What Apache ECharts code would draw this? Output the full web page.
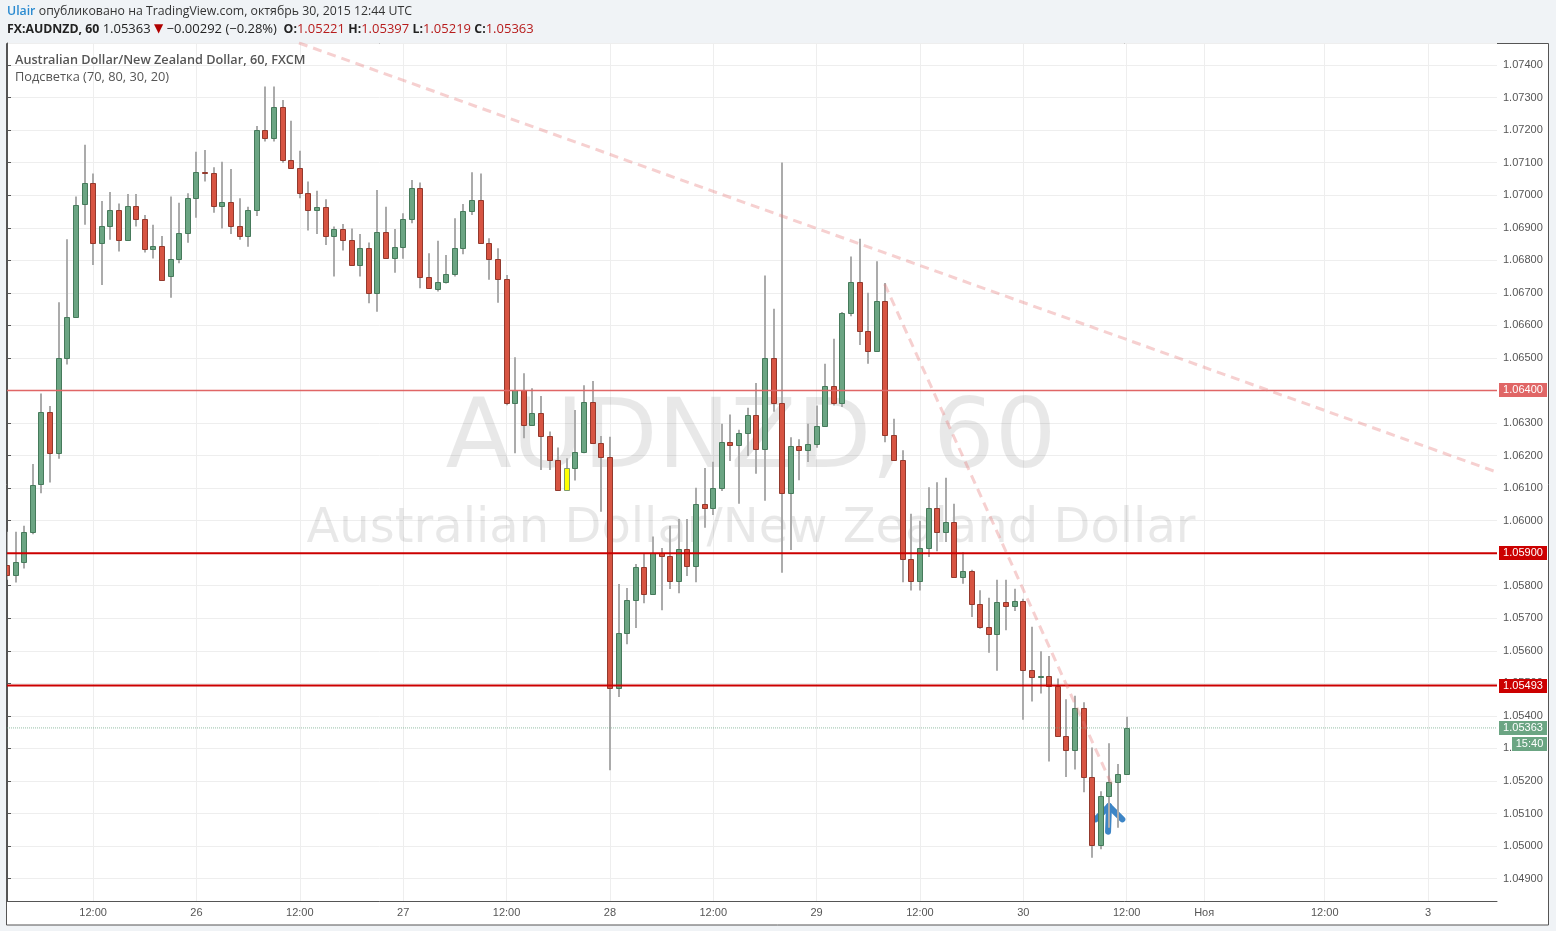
<!DOCTYPE html>
<html>
<head>
<meta charset="utf-8">
<script src="https://cdn.jsdelivr.net/npm/echarts@6/dist/echarts.min.js"></script>
<style>
html,body{margin:0;padding:0;background:#f0f3f6;}
#chart{width:1556px;height:931px;}
</style>
</head>
<body>
<div id="chart"></div>
<script>
// ---------- DATA ----------
const opens = [
1.05864,1.05833,1.05874,1.05966,1.06112,1.06333,1.06207,1.06499,1.06627,1.06972,
1.07039,1.06854,1.06906,1.06955,1.06863,1.06967,1.06927,1.06836,1.06844,1.06753,
1.06804,1.06885,1.06993,1.07070,1.07069,1.06967,1.06979,1.06904,1.06875,1.06955,
1.07201,1.07177,1.07272,1.07108,1.07085,1.07008,1.06955,1.06965,1.06875,1.06896,
1.06863,1.06786,1.06839,1.06699,1.06888,1.06806,1.06842,1.06927,1.07023,1.06750,
1.06712,1.06733,1.06758,1.06839,1.06953,1.06986,1.06854,1.06805,1.06744,1.06363,
1.06402,1.06294,1.06332,1.06260,1.06186,1.06094,1.06162,1.06210,1.06366,1.06239,
1.06197,1.05487,1.05655,1.05756,1.05857,1.05774,1.05900,1.05891,1.05815,1.05912,
1.05861,1.06052,1.06039,1.06101,1.06241,1.06234,1.06268,1.06326,1.06221,1.06501,
1.06363,1.06085,1.06228,1.06218,1.06236,1.06292,1.06415,1.06361,1.06638,1.06733,
1.06582,1.06521,1.06675,1.06262,1.06185,1.05883,1.05814,1.05915,1.06038,1.05965,
1.05997,1.05826,1.05844,1.05743,1.05674,1.05651,1.05749,1.05737,1.05753,1.05541,
1.05520,1.05522,1.05493,1.05339,1.05294,1.05425,1.05211,1.05002,1.05153,1.05196,
1.05221];
const closes = [
1.05833,1.05872,1.05966,1.06110,1.06333,1.06207,1.06499,1.06625,1.06970,1.07039,
1.06852,1.06906,1.06955,1.06863,1.06967,1.06927,1.06836,1.06845,1.06740,1.06804,
1.06885,1.06993,1.07070,1.07067,1.06967,1.06979,1.06904,1.06875,1.06955,1.07201,
1.07177,1.07272,1.07108,1.07085,1.07006,1.06955,1.06965,1.06875,1.06896,1.06863,
1.06786,1.06839,1.06699,1.06888,1.06806,1.06842,1.06927,1.07023,1.06750,1.06714,
1.06733,1.06758,1.06839,1.06953,1.06986,1.06854,1.06805,1.06744,1.06363,1.06402,
1.06294,1.06332,1.06260,1.06186,1.06094,1.06162,1.06210,1.06366,1.06239,1.06197,
1.05487,1.05655,1.05756,1.05857,1.05774,1.05900,1.05891,1.05815,1.05912,1.05861,
1.06052,1.06039,1.06101,1.06241,1.06234,1.06268,1.06326,1.06221,1.06501,1.06363,
1.06085,1.06228,1.06218,1.06236,1.06292,1.06415,1.06361,1.06638,1.06733,1.06582,
1.06521,1.06675,1.06262,1.06185,1.05883,1.05814,1.05915,1.06038,1.05965,1.05997,
1.05826,1.05844,1.05743,1.05674,1.05651,1.05750,1.05737,1.05753,1.05541,1.05520,
1.05522,1.05493,1.05339,1.05294,1.05425,1.05211,1.05002,1.05153,1.05196,1.05221,
1.05363];
const lows = [
1.05818,1.05810,1.05853,1.05958,1.06084,1.06117,1.06190,1.06480,1.06627,1.06909,
1.06786,1.06724,1.06863,1.06827,1.06863,1.06904,1.06824,1.06806,1.06738,1.06685,
1.06791,1.06854,1.06931,1.07042,1.06946,1.06898,1.06881,1.06863,1.06842,1.06936,
1.07165,1.07165,1.07100,1.07083,1.06991,1.06892,1.06881,1.06847,1.06750,1.06830,
1.06786,1.06750,1.06668,1.06642,1.06806,1.06762,1.06805,1.06914,1.06714,1.06714,
1.06704,1.06729,1.06750,1.06819,1.06939,1.06854,1.06740,1.06670,1.06355,1.06207,
1.06253,1.06294,1.06156,1.06156,1.06094,1.06094,1.06123,1.06207,1.06239,1.06027,
1.05233,1.05458,1.05620,1.05670,1.05746,1.05774,1.05725,1.05790,1.05777,1.05830,
1.05811,1.05978,1.06017,1.06091,1.06183,1.06052,1.06199,1.06144,1.06061,1.06335,
1.05840,1.05910,1.06124,1.06180,1.06224,1.06292,1.06354,1.06349,1.06628,1.06540,
1.06482,1.06521,1.06241,1.06185,1.05811,1.05785,1.05785,1.05888,1.05906,1.05934,
1.05826,1.05806,1.05704,1.05668,1.05594,1.05539,1.05663,1.05722,1.05388,1.05444,
1.05469,1.05260,1.05339,1.05212,1.05235,1.05165,1.04964,1.04990,1.05056,1.05056,
1.05219];
const highs = [
1.05966,1.05966,1.05984,1.06174,1.06391,1.06352,1.06671,1.06865,1.06996,1.07155,
1.07067,1.06982,1.07010,1.06975,1.07004,1.07004,1.06939,1.06909,1.06875,1.06996,
1.06977,1.07006,1.07134,1.07139,1.07086,1.07103,1.07081,1.06991,1.06965,1.07213,
1.07334,1.07334,1.07293,1.07229,1.07137,1.07042,1.07014,1.06988,1.06904,1.06912,
1.06898,1.06881,1.06855,1.07016,1.06965,1.06896,1.06945,1.07047,1.07039,1.06822,
1.06860,1.06816,1.06929,1.06973,1.07071,1.07067,1.06868,1.06837,1.06755,1.06502,
1.06453,1.06407,1.06383,1.06274,1.06225,1.06192,1.06340,1.06416,1.06429,1.06260,
1.06258,1.05805,1.05793,1.05867,1.05898,1.05951,1.05916,1.05984,1.06005,1.06005,
1.06101,1.06162,1.06181,1.06298,1.06326,1.06279,1.06347,1.06423,1.06753,1.06651,
1.07101,1.06256,1.06250,1.06298,1.06354,1.06482,1.06559,1.06641,1.06812,1.06866,
1.06700,1.06797,1.06730,1.06313,1.06216,1.06021,1.06000,1.06103,1.06118,1.06132,
1.06052,1.05903,1.05849,1.05786,1.05763,1.05818,1.05818,1.05791,1.05760,1.05674,
1.05599,1.05584,1.05515,1.05451,1.05462,1.05442,1.05303,1.05168,1.05316,1.05252,
1.05397];
const highlightBars = [65];               // bars coloured by "Подсветка"
const levelPrices = [1.06400, 1.05900, 1.05493];
const lastPrice = 1.05363;
const countdownText = '15:40';
const changeText = '\u22120.00292 (\u22120.28%)';
const xTickIndex = [10, 22, 34, 46, 58, 70, 82, 94, 106, 118, 130, 139, 153, 165];
const xTickText  = ['12:00','26','12:00','27','12:00','28','12:00','29','12:00','30','12:00','Ноя','12:00','3'];
const slotCount = 174;                    // hourly slots on the time axis (incl. future space)
const trendLineA = [[33.9, 1.07468], [173.2, 1.06147]];
const trendLineB = [[101.9, 1.06727], [128.45, 1.05178]];
const arrowStem  = [[127.84, 1.05044], [127.95, 1.05123]];
const arrowHead  = [[126.4, 1.05082], [127.95, 1.05123], [129.5, 1.05082]];
const yMin = 1.048311, yMax = 1.074679;

// ---------- BUILD ----------
const categories = [];
for (let i = 0; i < slotCount; i++) {
  const t = 2 + i;
  categories.push((25 + Math.floor(t / 24)) + ' ' + String(t % 24).padStart(2, '0') + ':00');
}
const tickMap = {};
xTickIndex.forEach((k, j) => { tickMap[k] = xTickText[j]; });
const candleData = opens.map((o, i) => [i, o, closes[i], lows[i], highs[i]]);

const UP = '#6ba583', DOWN = '#d75442';
const chart = echarts.init(document.getElementById('chart'), null, {renderer: 'canvas'});

function levelSeries(p, color, width, type) {
  return {type: 'line', xAxisIndex: 1, yAxisIndex: 0, data: [[0, p], [slotCount - 1, p]],
    symbol: 'none', silent: true, z: 5, animation: false,
    lineStyle: {color: color, width: width, type: type || 'solid'}};
}

const option = {
  animation: false,
  backgroundColor: '#f0f3f6',
  grid: {left: 7, right: 59, top: 43, bottom: 30, show: false},
  xAxis: [{
    type: 'category', data: categories, boundaryGap: false,
    axisLine: {show: true, lineStyle: {color: '#555', width: 1}},
    axisTick: {show: false},
    axisLabel: {interval: (idx) => tickMap[idx] !== undefined, formatter: (v, idx) => tickMap[idx] || '',
      color: '#555', fontSize: 11, margin: 6, fontFamily: 'Liberation Sans, Arial, sans-serif'},
    splitLine: {show: true, interval: (idx) => tickMap[idx] !== undefined, lineStyle: {color: '#eeeeee', width: 1}}
  }, {
    type: 'value', min: 0, max: slotCount - 1, show: false
  }],
  yAxis: {
    type: 'value', position: 'right', min: yMin, max: yMax, splitNumber: 26,
    minInterval: 0.001, maxInterval: 0.001,
    axisLine: {show: true, lineStyle: {color: '#555', width: 1}},
    axisTick: {show: true, length: 4, lineStyle: {color: '#555'}},
    axisLabel: {showMinLabel: false, showMaxLabel: false, formatter: v => v.toFixed(5),
      color: '#555', fontSize: 11, margin: 6, fontFamily: 'Liberation Sans, Arial, sans-serif'},
    splitLine: {show: true, lineStyle: {color: '#eeeeee', width: 1}}
  },
  series: [
    // blue arrow (under candles)
    {type: 'line', xAxisIndex: 1, data: arrowHead, symbol: 'none', silent: true, z: 2,
      lineStyle: {color: '#3d85c6', width: 6, cap: 'round', join: 'round'}},
    {type: 'line', xAxisIndex: 1, data: arrowStem, symbol: 'none', silent: true, z: 2,
      lineStyle: {color: '#3d85c6', width: 6, cap: 'round', join: 'round'}},
    // candles
    {
      type: 'custom', xAxisIndex: 0, yAxisIndex: 0, data: candleData, clip: true, z: 3,
      dimensions: ['i', 'open', 'close', 'low', 'high'],
      encode: {x: 0, y: [1, 2, 3, 4]},
      renderItem: function (params, api) {
        const i = api.value(0);
        const o = api.value(1), c = api.value(2), l = api.value(3), h = api.value(4);
        const po = api.coord([i, o]), pc = api.coord([i, c]);
        const pl = api.coord([i, l]), ph = api.coord([i, h]);
        const cx = Math.round(po[0]);
        const up = c >= o;
        let fill = up ? UP : DOWN;
        let stroke = up ? '#467a5b' : '#93392d';
        if (highlightBars.indexOf(i) >= 0) { fill = '#ffff00'; stroke = '#7f9a6a'; }
        const yTop = Math.round(Math.min(po[1], pc[1]));
        const yBot = Math.round(Math.max(po[1], pc[1]));
        const bh = Math.max(1, yBot - yTop);
        return {type: 'group', children: [
          {type: 'line', shape: {x1: cx, y1: ph[1], x2: cx, y2: pl[1]}, style: {stroke: '#ababab', lineWidth: 2}},
          {type: 'rect', shape: {x: cx - 2.5, y: yTop + 0.5, width: 5, height: bh},
            style: {fill: fill, stroke: stroke, lineWidth: 1}}
        ]};
      }
    },
    levelSeries(levelPrices[0], '#e06666', 1.5),
    levelSeries(levelPrices[1], '#cc0000', 2),
    levelSeries(levelPrices[2], '#cc0000', 2),
    levelSeries(lastPrice, 'rgba(107,165,131,0.7)', 1, 'dotted'),
    // trend lines
    {type: 'line', xAxisIndex: 1, data: trendLineA, symbol: 'none', silent: true, z: 6,
      lineStyle: {color: 'rgba(230,120,120,0.35)', width: 3, type: [9, 6]}},
    {type: 'line', xAxisIndex: 1, data: trendLineB, symbol: 'none', silent: true, z: 6,
      lineStyle: {color: 'rgba(230,120,120,0.35)', width: 3, type: [9, 6]}}
  ]
};
chart.setOption(option);

// ---------- TEXT / LABEL GRAPHICS ----------
const last = opens.length - 1;
const fmt = v => v.toFixed(5);
const g = [];
// chart panel
g.push({type: 'rect', z: -10, shape: {x: 6.5, y: 43.5, width: 1542, height: 881.5},
  style: {fill: '#ffffff', stroke: '#555555', lineWidth: 1}});
// watermark
g.push({type: 'text', z: 1, x: 751, y: 442, style: {text: 'AUDNZD, 60', fill: 'rgba(0,0,0,0.09)',
  font: '97px "DejaVu Sans", sans-serif', align: 'center', verticalAlign: 'middle'}});
g.push({type: 'text', z: 1, x: 751, y: 530, style: {text: 'Australian Dollar/New Zealand Dollar', fill: 'rgba(0,0,0,0.09)',
  font: '48px "DejaVu Sans", sans-serif', align: 'center', verticalAlign: 'middle'}});
// header
g.push({type: 'text', z: 10, x: 7, y: 11, style: {
  text: '{u|Ulair} {t|опубликовано на TradingView.com, октябрь 30, 2015 12:44 UTC}',
  verticalAlign: 'middle',
  rich: {u: {fill: '#2a8ad0', font: '600 12.3px "Open Sans", sans-serif'},
         t: {fill: '#333', font: '12.3px "Open Sans", sans-serif'}}}});
g.push({type: 'text', z: 10, x: 7, y: 29, style: {
  text: '{b|FX:AUDNZD, 60} {n|' + fmt(closes[last]) + '} {r|▼} {n|' + changeText + '}  {b|O:}{v|' + fmt(opens[last]) +
        '} {b|H:}{v|' + fmt(highs[last]) + '} {b|L:}{v|' + fmt(lows[last]) + '} {b|C:}{v|' + fmt(closes[last]) + '}',
  verticalAlign: 'middle',
  rich: {b: {fill: '#222', font: '700 12.3px "Open Sans", sans-serif'},
         n: {fill: '#222', font: '13px "Open Sans", sans-serif'},
         r: {fill: '#b00000', font: '12px "DejaVu Sans", sans-serif'},
         v: {fill: '#b71c1c', font: '13px "Open Sans", sans-serif'}}}});
// legend inside plot
g.push({type: 'text', z: 10, x: 15, y: 60, style: {text: 'Australian Dollar/New Zealand Dollar, 60, FXCM',
  fill: '#555', font: '600 12.7px "Open Sans", sans-serif', verticalAlign: 'middle'}});
g.push({type: 'text', z: 10, x: 15, y: 77, style: {text: 'Подсветка (70, 80, 30, 20)',
  fill: '#555', font: '12.8px "Open Sans", sans-serif', verticalAlign: 'middle'}});
// price tags on the axis
function tag(price, text, color, x, w, dy) {
  const y = chart.convertToPixel({yAxisIndex: 0}, price) + (dy || 0);
  g.push({type: 'rect', z: 20, shape: {x: x, y: Math.round(y) - 7, width: w, height: 14}, style: {fill: color}});
  g.push({type: 'text', z: 21, x: x + w / 2, y: Math.round(y), style: {text: text, fill: '#fff',
    font: '11px "Liberation Sans", Arial, sans-serif', align: 'center', verticalAlign: 'middle'}});
}
tag(levelPrices[0], fmt(levelPrices[0]), '#e06666', 1499, 48);
tag(levelPrices[1], fmt(levelPrices[1]), '#cc0000', 1499, 48);
tag(levelPrices[2], fmt(levelPrices[2]), '#cc0000', 1499, 48);
tag(lastPrice, fmt(lastPrice), '#6ba583', 1499, 48);
tag(lastPrice, countdownText, '#6ba583', 1512, 35, 16);
chart.setOption({graphic: g});
</script>
</body>
</html>
